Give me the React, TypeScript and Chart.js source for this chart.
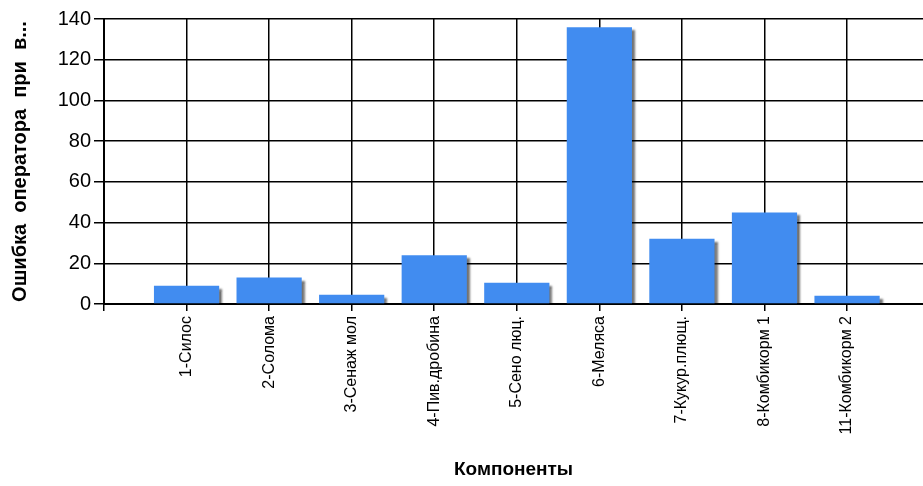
import React, { useEffect, useRef } from "react";
import { Chart, registerables } from "chart.js";

Chart.register(...registerables);

const categories = [
  "1-Силос",
  "2-Солома",
  "3-Сенаж мол",
  "4-Пив.дробина",
  "5-Сено люц.",
  "6-Меляса",
  "7-Кукур.плющ.",
  "8-Комбикорм 1",
  "11-Комбикорм 2",
];
const values = [9, 13, 4.5, 24, 10.5, 136, 32, 45, 4];
const yTicks = [0, 20, 40, 60, 80, 100, 120, 140];
const yTitle = "Ошибка  оператора  при  в...";
const xTitle = "Компоненты";

const FONT = "'Liberation Sans', Arial, sans-serif";

const shadowPlugin = {
  id: "barShadow",
  beforeDatasetsDraw(chart: any) {
    const ctx = chart.ctx;
    ctx.save();
    ctx.shadowColor = "rgba(0,0,0,0.55)";
    ctx.shadowOffsetX = 3;
    ctx.shadowOffsetY = 3;
    ctx.shadowBlur = 2;
  },
  afterDatasetsDraw(chart: any) {
    chart.ctx.restore();
  },
};

export default function App() {
  const ref = useRef<HTMLCanvasElement>(null);
  useEffect(() => {
    if (!ref.current) return;
    const chart = new Chart(ref.current, {
      type: "bar",
      data: {
        datasets: [
          {
            data: categories.map((c, i) => ({ x: i + 1, y: values[i] })),
            backgroundColor: "#418CF0",
            borderWidth: 0,
            barPercentage: 0.79,
            categoryPercentage: 1,
          },
        ],
      },
      plugins: [shadowPlugin],
      options: {
        responsive: false,
        animation: false,
        layout: { padding: { top: 19, left: 0, right: 0, bottom: 0 } },
        plugins: { legend: { display: false }, tooltip: { enabled: false } },
        scales: {
          x: {
            type: "linear",
            offset: false,
            min: 0,
            max: 9.92,
            afterFit: (s: any) => {
              s.height = 182;
            },
            ticks: {
              stepSize: 1,
              includeBounds: false,
              autoSkip: false,
              minRotation: 90,
              maxRotation: 90,
              padding: 5,
              color: "#000",
              font: { family: FONT, size: 16 },
              callback: (v: any) => {
                const i = Math.round(Number(v)) - 1;
                return i >= 0 && i < categories.length ? categories[i] : "";
              },
            },
            grid: { color: "#000", lineWidth: 1.5, tickLength: 7, offset: false },
            border: { color: "#000", width: 2 },
            title: {
              display: true,
              text: xTitle,
              color: "#000",
              font: { family: FONT, size: 19, weight: "bold" },
              padding: { top: 0, bottom: 5 },
            },
          },
          y: {
            min: 0,
            max: 140,
            afterFit: (s: any) => {
              s.width = 104;
            },
            afterBuildTicks: (s: any) => {
              s.ticks = yTicks.map((v) => ({ value: v }));
            },
            ticks: {
              padding: 3,
              color: "#000",
              font: { family: FONT, size: 20 },
            },
            grid: { color: "#000", lineWidth: 1.5, tickLength: 10 },
            border: { color: "#000", width: 2 },
            title: {
              display: true,
              text: yTitle,
              color: "#000",
              font: { family: FONT, size: 20, weight: "bold" },
              padding: { top: 8, bottom: 0 },
            },
          },
        },
      },
    });
    return () => chart.destroy();
  }, []);
  return (
    <div style={{ position: "absolute", left: 0, top: 0, width: 923, height: 486, background: "#fff" }}>
      <canvas ref={ref} width={923} height={486} />
    </div>
  );
}
